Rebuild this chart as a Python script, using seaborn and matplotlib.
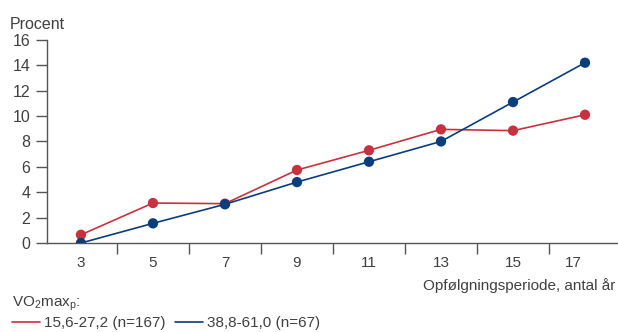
import seaborn as sns
import pandas as pd
import matplotlib.pyplot as plt
import matplotlib.transforms as mtransforms
from matplotlib.ticker import FixedLocator

years = ['3', '5', '7', '9', '11', '13', '15', '17']
low_fit = [0.65, 3.15, 3.1, 5.75, 7.3, 8.95, 8.85, 10.1]
high_fit = [0.0, 1.55, 3.05, 4.8, 6.4, 8.0, 11.1, 14.2]
group_names = ['15,6-27,2 (n=167)', '38,8-61,0 (n=67)']

RED = '#c8323f'
BLUE = '#0b3c7c'
TEXT = '#404040'

sns.set_theme(style='white')
plt.rcParams['font.family'] = ['Liberation Sans', 'DejaVu Sans']
plt.rcParams['text.color'] = TEXT
plt.rcParams['mathtext.fontset'] = 'custom'
plt.rcParams['mathtext.rm'] = 'Liberation Sans'
plt.rcParams['mathtext.it'] = 'Liberation Sans'

df = pd.DataFrame({
    'year': years * 2,
    'pct': low_fit + high_fit,
    'group': [group_names[0]] * len(years) + [group_names[1]] * len(years),
})

fig = plt.figure(figsize=(6.18, 3.32), dpi=100)
ax = fig.add_axes([0.076, 0.268, 0.924, 0.612])

palette = {group_names[0]: RED, group_names[1]: BLUE}
sns.lineplot(data=df, x='year', y='pct', hue='group', palette=palette,
             linewidth=1.2, ax=ax, legend=True)
sns.scatterplot(data=df, x='year', y='pct', hue='group', palette=palette,
                s=55, linewidth=0, ax=ax, legend=False, zorder=3)

ax.set_xlim(-0.472, 7.458)
ax.set_ylim(0, 16)
ax.set_yticks(range(0, 17, 2))
ax.set_xlabel('')
ax.set_ylabel('')

sns.despine(ax=ax)
for side in ['left', 'bottom']:
    ax.spines[side].set_color('#555555')
    ax.spines[side].set_linewidth(1.0)

ax.xaxis.set_minor_locator(FixedLocator([i + 0.5 for i in range(len(years) - 1)]))
ax.tick_params(axis='x', which='major', length=0, pad=9, labelsize=11, labelcolor=TEXT)
ax.tick_params(axis='x', which='minor', bottom=True, length=8, width=1, color='#555555', direction='out')
ax.tick_params(axis='y', which='major', left=True, length=8, width=1, color='#555555',
               direction='out', pad=4, labelsize=11.5, labelcolor=TEXT)

# last label sits a little left of its point in the original
last = ax.get_xticklabels()[-1]
last.set_transform(last.get_transform() + mtransforms.ScaledTranslation(-0.12, 0, fig.dpi_scale_trans))

fig.text(0.016, 0.913, 'Procent', fontsize=11.5, color=TEXT, va='baseline')
fig.text(0.995, 0.1265, 'Opfølgningsperiode, antal år', fontsize=11, color=TEXT,
         ha='right', va='baseline')

handles, labels = ax.get_legend_handles_labels()
ax.get_legend().remove()
fig.legend(handles, labels, loc='upper left', bbox_to_anchor=(0.015, 0.122), ncol=2,
           frameon=False, fontsize=11, title='VO$_2$max$_\\mathrm{p}$:', title_fontsize=11,
           alignment='left', handlelength=1.8, handletextpad=0.3, columnspacing=0.6,
           borderaxespad=0, borderpad=0.2, labelspacing=0.2)

fig.savefig('out.png', dpi=100)
